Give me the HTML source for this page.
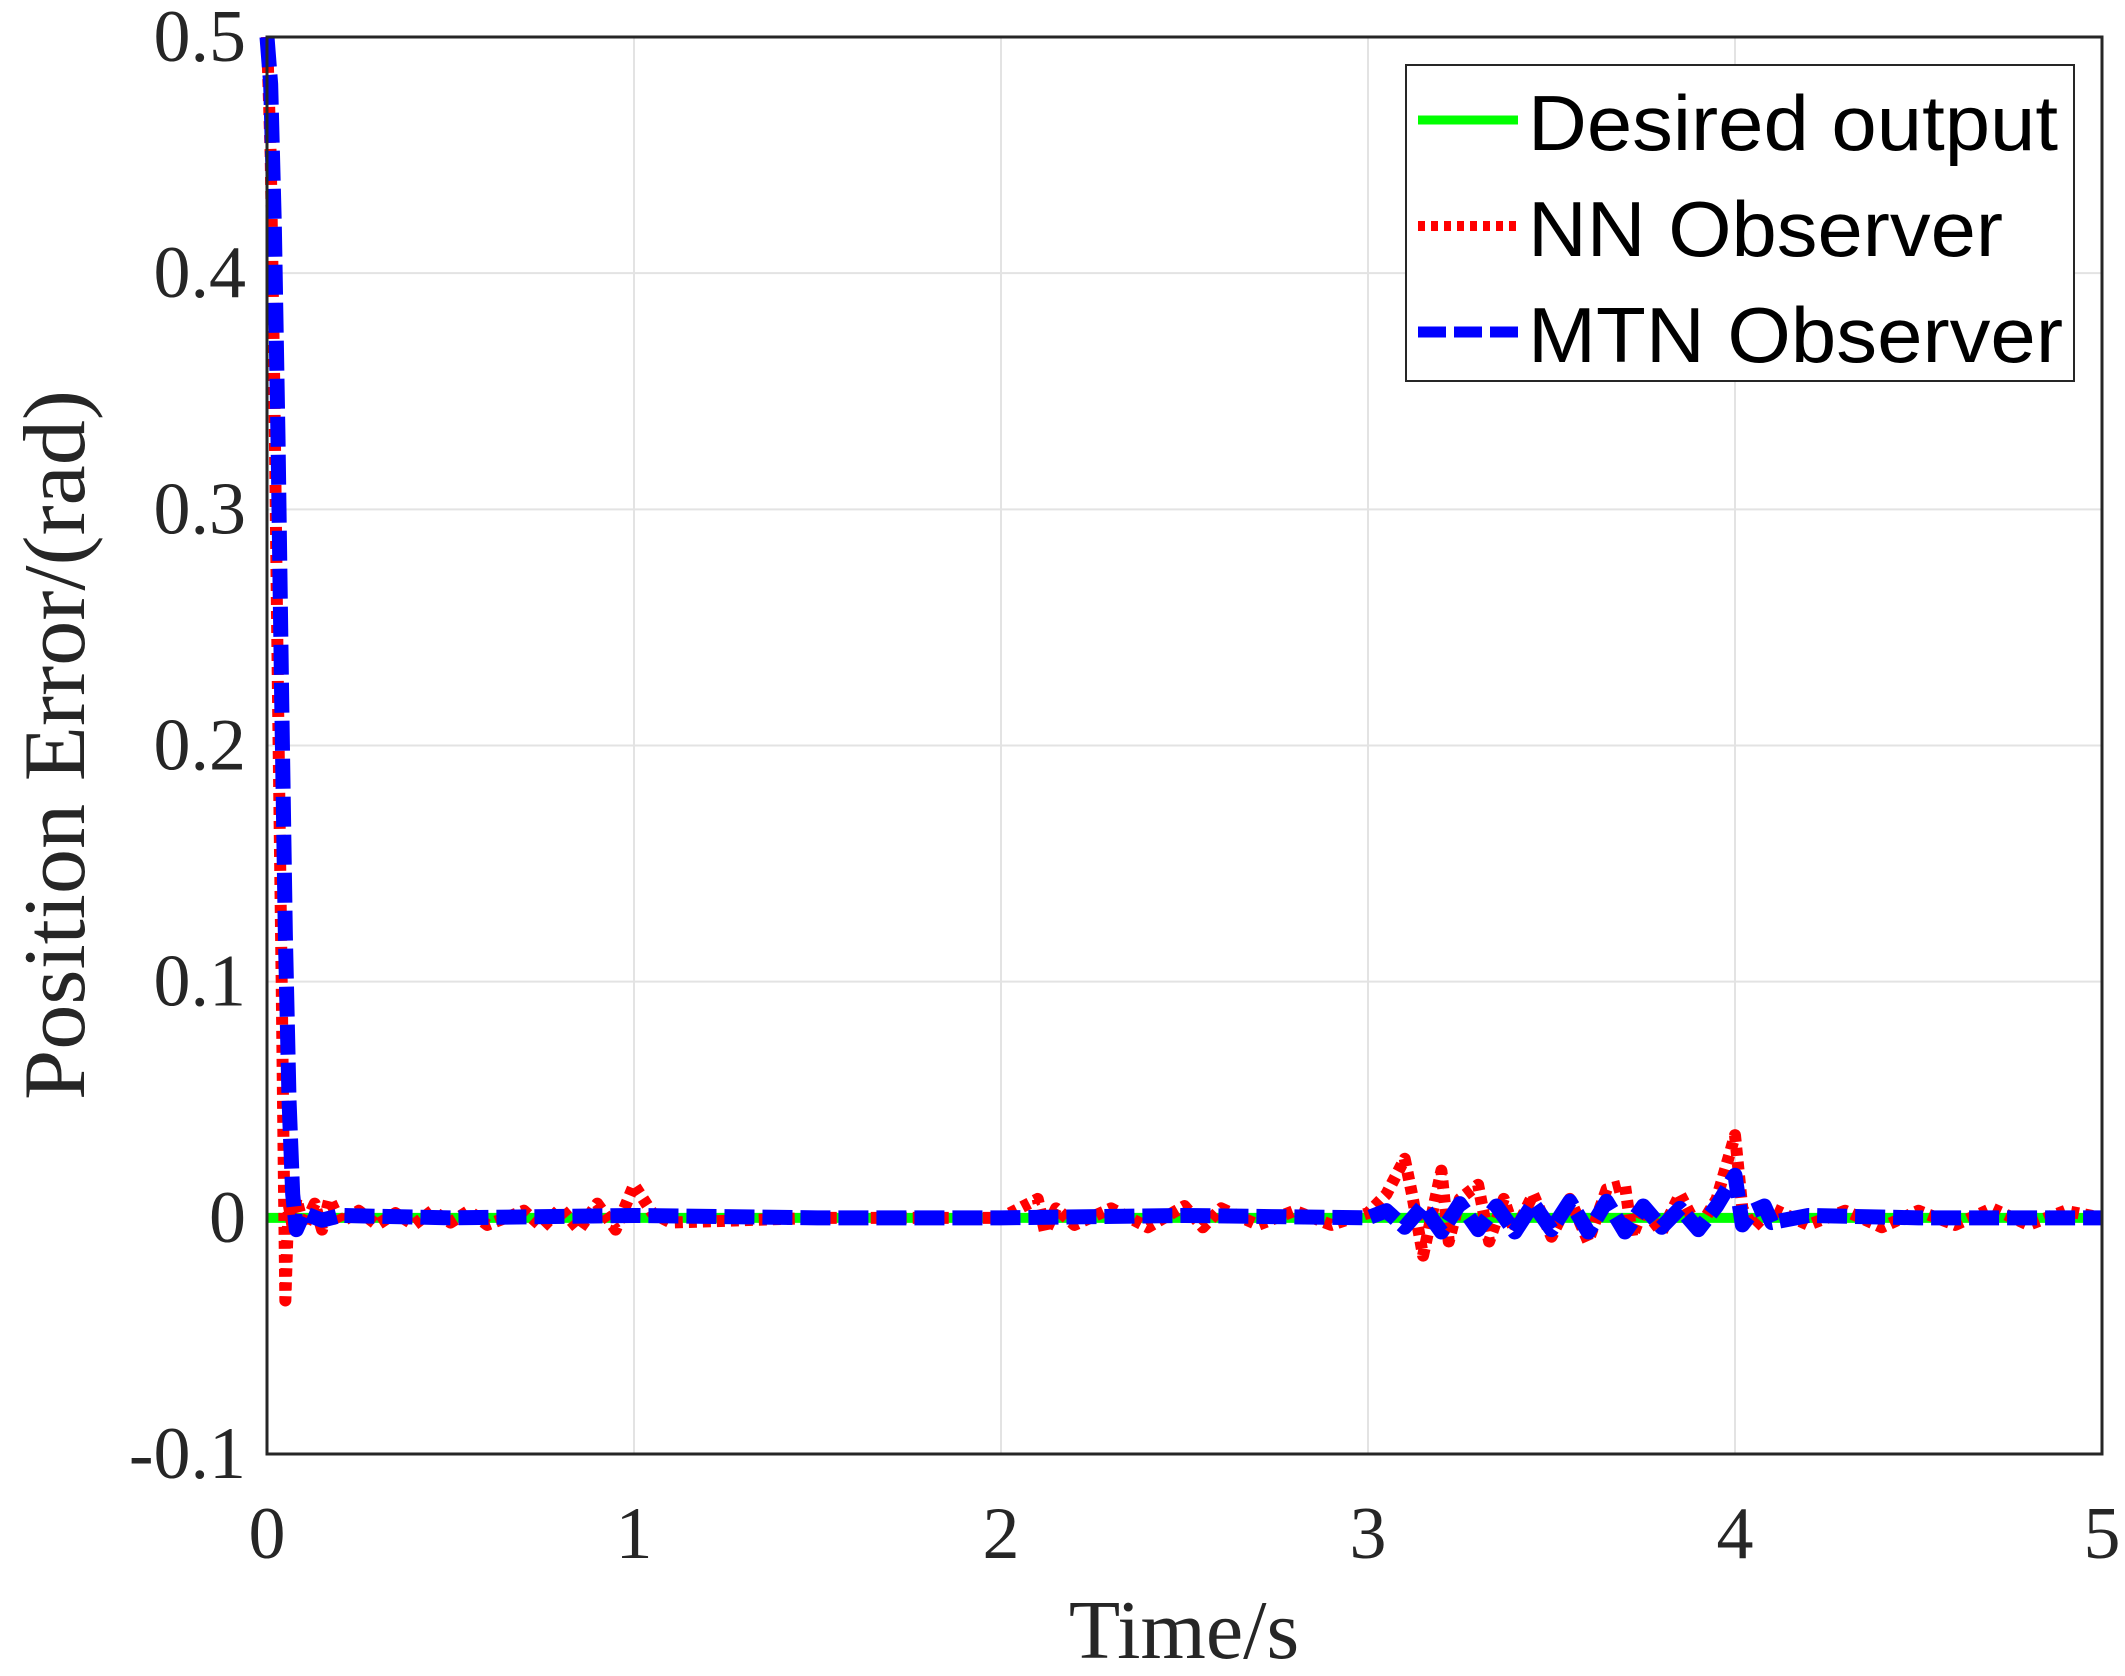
<!DOCTYPE html>
<html><head><meta charset="utf-8"><style>
html,body{margin:0;padding:0;background:#fff;}
svg{display:block;}
</style></head><body>
<svg id="chart" width="2125" height="1676" xmlns="http://www.w3.org/2000/svg">
<rect x="0" y="0" width="2125" height="1676" fill="#fff"/>
<g id="grid"></g>
<g id="series"></g>
<rect x="267" y="37" width="1835" height="1417" fill="none" stroke="#262626" stroke-width="3"/>
<g id="ticks" font-family="Liberation Serif, serif" font-size="74" fill="#262626"></g>
<text x="1184" y="1658" font-family="Liberation Serif, serif" font-size="84" fill="#262626" text-anchor="middle">Time/s</text>
<text transform="translate(84,745) rotate(-90)" font-family="Liberation Serif, serif" font-size="88" fill="#262626" text-anchor="middle" textLength="710" lengthAdjust="spacingAndGlyphs">Position Error/(rad)</text>
<g>
<rect x="1406" y="65" width="668" height="316" fill="#fff" stroke="#262626" stroke-width="2"/>
<line x1="1418" y1="120" x2="1518" y2="120" stroke="#00ff00" stroke-width="9"/>
<text x="1528" y="150" font-family="Liberation Sans, sans-serif" font-size="78" fill="#000" textLength="530" lengthAdjust="spacingAndGlyphs">Desired output</text>
<line x1="1418" y1="226" x2="1518" y2="226" stroke="#ff0000" stroke-width="10" stroke-dasharray="7,6"/>
<text x="1528" y="256" font-family="Liberation Sans, sans-serif" font-size="78" fill="#000" textLength="475" lengthAdjust="spacingAndGlyphs">NN Observer</text>
<line x1="1418" y1="332" x2="1518" y2="332" stroke="#0000ff" stroke-width="11" stroke-dasharray="28,8"/>
<text x="1528" y="362" font-family="Liberation Sans, sans-serif" font-size="78" fill="#000" textLength="535" lengthAdjust="spacingAndGlyphs">MTN Observer</text>
</g>
</svg>
<script>
const xTicks=[0,1,2,3,4,5];
const yTicks=[-0.1,0,0.1,0.2,0.3,0.4,0.5];
const yTickLabels=["-0.1","0","0.1","0.2","0.3","0.4","0.5"];
const desiredT=[0,5];
const desiredV=[0,0];
const nnT=[0,0.01,0.02,0.03,0.04,0.045,0.05,0.055,0.06,0.07,0.08,0.1,0.13,0.15,0.17,0.2,0.25,0.3,0.35,0.4,0.45,0.5,0.55,0.6,0.7,0.75,0.8,0.85,0.9,0.95,1.0,1.05,1.1,1.5,2.0,2.1,2.12,2.15,2.2,2.3,2.4,2.5,2.55,2.6,2.7,2.8,2.9,3.0,3.05,3.1,3.12,3.15,3.2,3.22,3.25,3.3,3.33,3.37,3.4,3.45,3.5,3.55,3.6,3.65,3.7,3.72,3.75,3.8,3.85,3.9,3.95,4.0,4.02,4.05,4.1,4.2,4.3,4.4,4.5,4.6,4.7,4.8,4.9,5.0];
const nnV=[0.5,0.45,0.35,0.22,0.1,0.03,-0.035,-0.01,0.005,-0.004,0.008,-0.004,0.006,-0.005,0.008,-0.002,0.003,-0.003,0.002,-0.003,0.003,-0.002,0.003,-0.003,0.003,-0.004,0.004,-0.005,0.006,-0.005,0.014,0.002,-0.002,0,0,0.008,-0.006,0.004,-0.003,0.004,-0.004,0.005,-0.004,0.004,-0.003,0.003,-0.003,0.002,0.01,0.025,0.01,-0.016,0.02,-0.01,0.008,0.014,-0.01,0.008,-0.006,0.01,-0.008,0.008,-0.01,0.012,0.014,-0.008,0.004,-0.006,0.01,-0.005,0.008,0.035,0.004,-0.004,0.004,-0.003,0.003,-0.004,0.003,-0.003,0.004,-0.003,0.003,0];
const mtnT=[0,0.01,0.02,0.03,0.04,0.05,0.06,0.07,0.08,0.1,0.15,0.2,0.5,1.0,1.5,2.0,2.5,3.0,3.05,3.1,3.15,3.2,3.25,3.3,3.35,3.4,3.45,3.5,3.55,3.6,3.65,3.7,3.75,3.8,3.85,3.9,3.95,4.0,4.02,4.05,4.08,4.1,4.2,4.5,5.0];
const mtnV=[0.5,0.48,0.42,0.33,0.22,0.12,0.05,0.01,-0.005,0.002,-0.001,0.001,0,0.001,0,0,0.001,0,0.003,-0.004,0.005,-0.006,0.006,-0.005,0.005,-0.006,0.006,-0.005,0.007,-0.006,0.007,-0.006,0.005,-0.004,0.004,-0.005,0.005,0.018,-0.003,0.003,0.005,-0.002,0.001,0,0];
const X0=267,X1=2102,Y0=1454,Y1=37;
const xs=t=>X0+(t-0)/(5-0)*(X1-X0);
const ys=v=>Y0-(v+0.1)/0.6*(Y0-Y1);
const NS="http://www.w3.org/2000/svg";
const grid=document.getElementById('grid'),ticks=document.getElementById('ticks'),ser=document.getElementById('series');
xTicks.forEach(t=>{
 const l=document.createElementNS(NS,'line');
 
 
 l.setAttribute('x1',xs(t));l.setAttribute('x2',xs(t));l.setAttribute('y1',Y1);l.setAttribute('y2',Y0);
 l.setAttribute('stroke','#e3e3e3');l.setAttribute('stroke-width','2');grid.appendChild(l);
 const tx=document.createElementNS(NS,'text');
 
 
 tx.setAttribute('x',xs(t));tx.setAttribute('y',1558);tx.setAttribute('text-anchor','middle');tx.textContent=t;ticks.appendChild(tx);
});
yTicks.forEach((v,i)=>{
 const l=document.createElementNS(NS,'line');
 
 
 l.setAttribute('x1',X0);l.setAttribute('x2',X1);l.setAttribute('y1',ys(v));l.setAttribute('y2',ys(v));
 l.setAttribute('stroke','#e3e3e3');l.setAttribute('stroke-width','2');grid.appendChild(l);
 const tx=document.createElementNS(NS,'text');
 
 
 tx.setAttribute('x',246);tx.setAttribute('y',ys(v)+24);tx.setAttribute('text-anchor','end');tx.textContent=yTickLabels[i];ticks.appendChild(tx);
});
function line(T,V,color,w,dash,name){
 const p=document.createElementNS(NS,'polyline');
 
 
 p.setAttribute('points',T.map((t,i)=>xs(t)+','+ys(V[i])).join(' '));
 p.setAttribute('fill','none');p.setAttribute('stroke',color);p.setAttribute('stroke-width',w);
 p.setAttribute('stroke-linejoin','round');
 if(dash)p.setAttribute('stroke-dasharray',dash);
 ser.appendChild(p);
}
line(desiredT,desiredV,'#00ff00',10,null,'desired-output-line');
line(nnT,nnV,'#ff0000',12,'8,6','nn-observer-line');
line(mtnT,mtnV,'#0000ff',15,'30,8','mtn-observer-line');
</script>
</body></html>
